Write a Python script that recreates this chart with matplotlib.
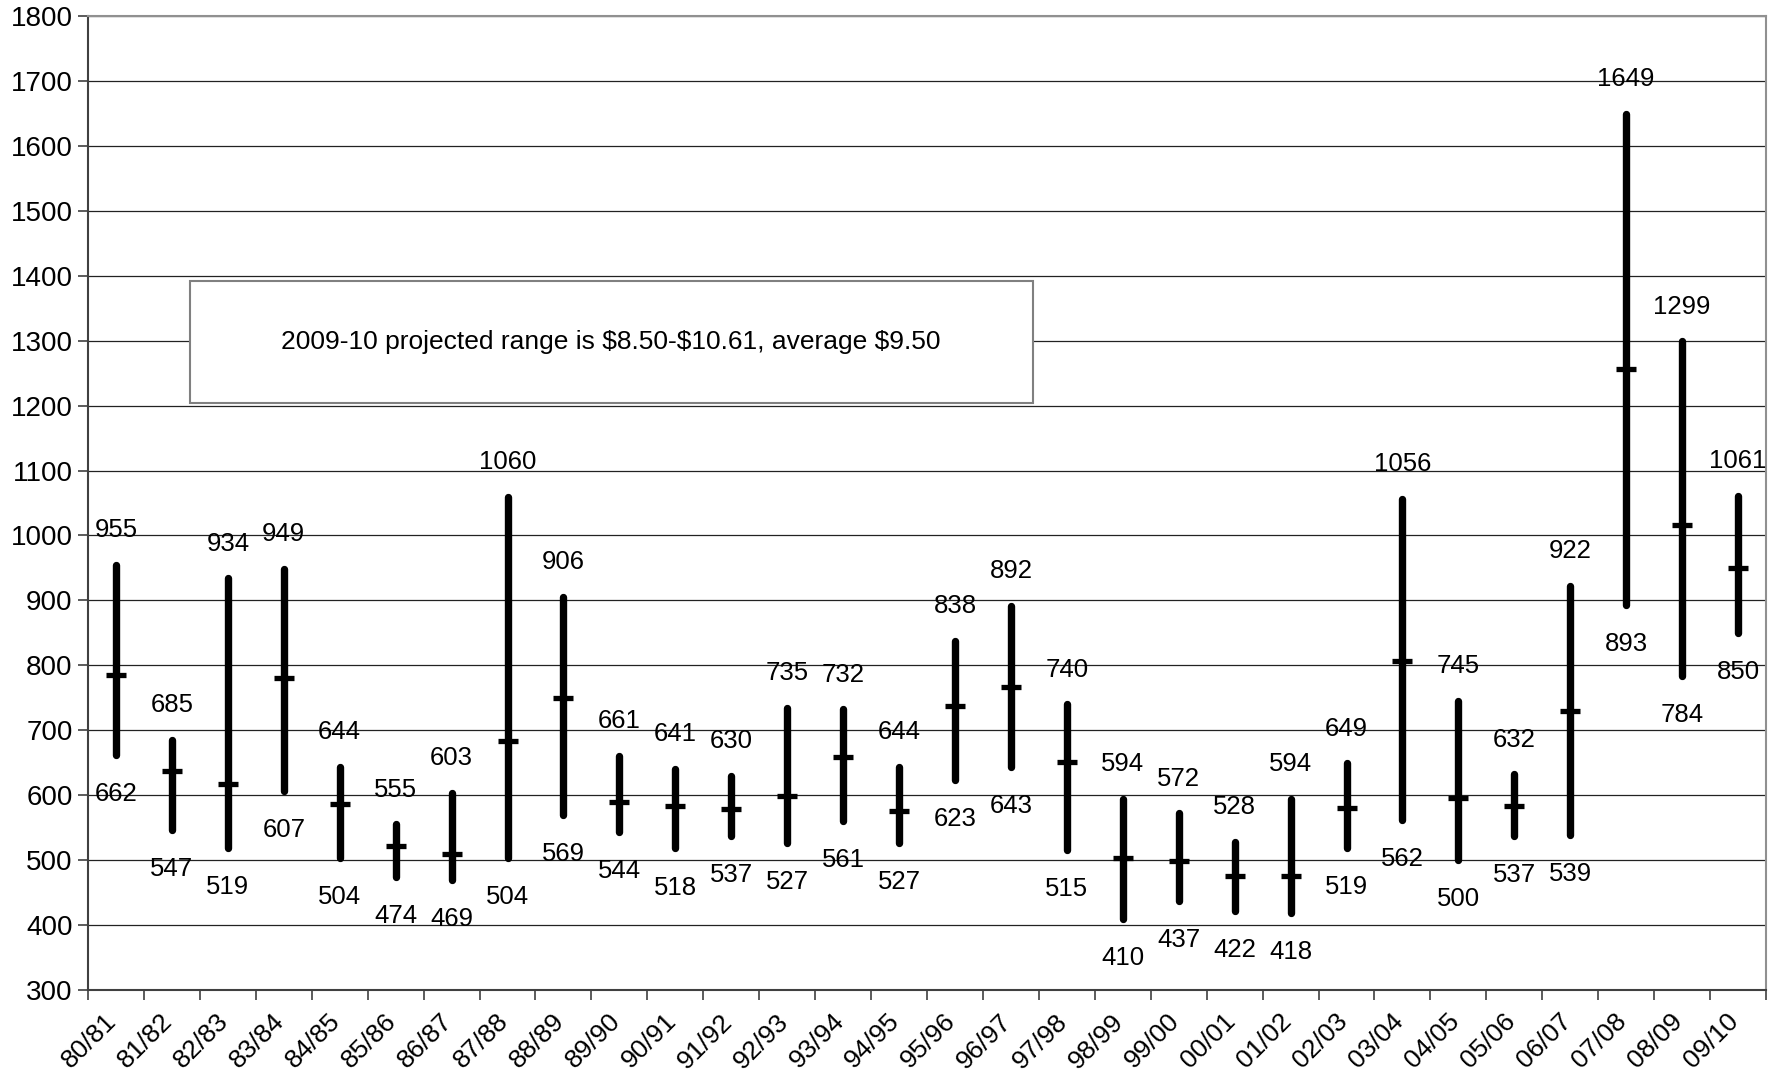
import numpy as np
import matplotlib
matplotlib.use("Agg")
import matplotlib.pyplot as plt
import matplotlib.transforms as mtransforms
from matplotlib.patches import Rectangle

# marketing years and high / low / average prices (cents)
years = ["80/81", "81/82", "82/83", "83/84", "84/85", "85/86", "86/87", "87/88",
         "88/89", "89/90", "90/91", "91/92", "92/93", "93/94", "94/95", "95/96",
         "96/97", "97/98", "98/99", "99/00", "00/01", "01/02", "02/03", "03/04",
         "04/05", "05/06", "06/07", "07/08", "08/09", "09/10"]
highs = [955, 685, 934, 949, 644, 555, 603, 1060, 906, 661, 641, 630, 735, 732, 644,
         838, 892, 740, 594, 572, 528, 594, 649, 1056, 745, 632, 922, 1649, 1299, 1061]
lows = [662, 547, 519, 607, 504, 474, 469, 504, 569, 544, 518, 537, 527, 561, 527,
        623, 643, 515, 410, 437, 422, 418, 519, 562, 500, 537, 539, 893, 784, 850]
avgs = [785, 638, 617, 780, 587, 521, 510, 683, 749, 590, 584, 578, 598, 659, 575,
        738, 766, 651, 504, 498, 476, 476, 580, 807, 596, 584, 729, 1257, 1016, 950]
note = "2009-10 projected range is $8.50-$10.61, average $9.50"

plt.rcParams["font.family"] = ["Liberation Sans", "DejaVu Sans"]
narrow = ["Liberation Sans Narrow", "Liberation Sans", "DejaVu Sans"]

fig = plt.figure(figsize=(17.75, 10.81), dpi=100)
ax = fig.add_axes([88 / 1775, 91 / 1081, 1678 / 1775, 974 / 1081])

x = np.arange(len(years))
ax.vlines(x, lows, highs, colors="black", lw=5.3, capstyle="round", zorder=4)
ax.plot(x, avgs, ls="none", marker="_", ms=15, mew=3.8, color="black", zorder=5)

for i in range(len(years)):
    ax.annotate(str(highs[i]), (x[i], highs[i]), xytext=(0, 20), textcoords="offset points",
                ha="center", va="baseline", fontsize=18.5, family=narrow)
    ax.annotate(str(lows[i]), (x[i], lows[i]), xytext=(0, -19.5), textcoords="offset points",
                ha="center", va="top", fontsize=18.5, family=narrow)

# note box
ax.add_patch(Rectangle((0.0605, 0.603), 0.5025, 0.125, transform=ax.transAxes,
                       fc="white", ec="#808080", lw=1.5, zorder=3))
ax.text(0.3117, 0.6655, note, transform=ax.transAxes, ha="center", va="center",
        fontsize=19, zorder=4)

ax.set_xlim(-0.5, len(years) - 0.5)
ax.set_ylim(300, 1800)
ax.set_yticks(np.arange(300, 1801, 100))
ax.yaxis.grid(True, color="#222222", lw=0.9)
ax.set_axisbelow(True)
ax.tick_params(axis="y", labelsize=20, length=7, width=1.2, color="#404040", pad=4)

ax.set_xticks(np.arange(len(years) + 1) - 0.5)
ax.set_xticklabels([])
ax.set_xticks(x, minor=True)
ax.set_xticklabels(years, minor=True)
ax.tick_params(axis="x", which="major", length=7, width=1.2, color="#404040")
ax.tick_params(axis="x", which="minor", length=0, labelsize=19, pad=20)
offset = mtransforms.ScaledTranslation(-3 / 100, 0, fig.dpi_scale_trans)
for lab in ax.get_xticklabels(minor=True):
    lab.set_rotation(45)
    lab.set_ha("right")
    lab.set_va("center")
    lab.set_rotation_mode("anchor")
    lab.set_transform(lab.get_transform() + offset)

for side in ["left", "bottom"]:
    ax.spines[side].set_color("#404040")
    ax.spines[side].set_linewidth(1.5)
for side in ["top", "right"]:
    ax.spines[side].set_color("#909090")
    ax.spines[side].set_linewidth(1.5)

fig.savefig("out.png", dpi=100)
